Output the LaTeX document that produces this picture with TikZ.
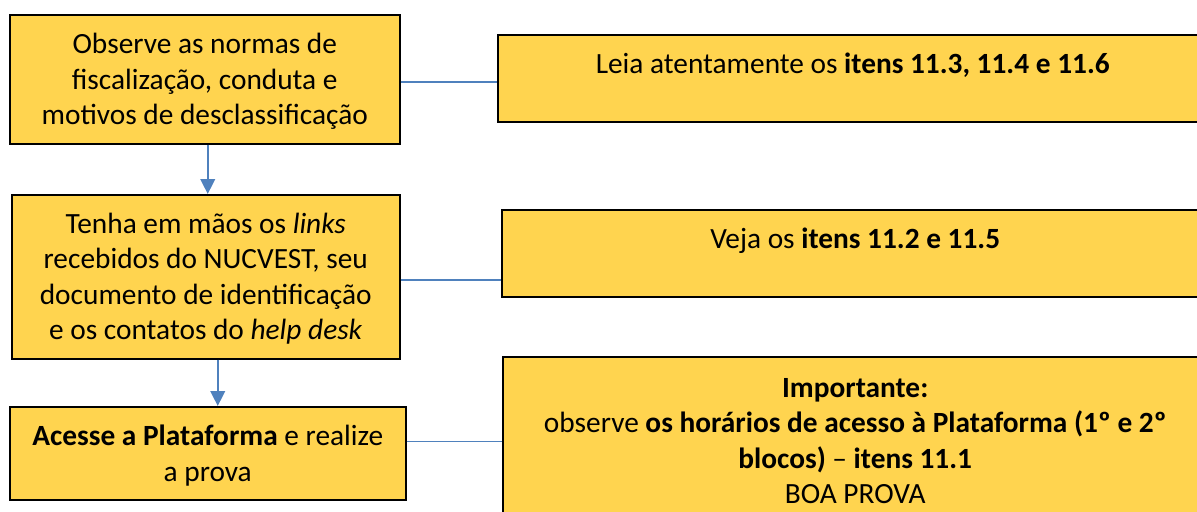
\documentclass[tikz,border=0pt]{standalone}
\usepackage{fontspec}
\setmainfont{Carlito}
\usetikzlibrary{positioning,arrows.meta}
\definecolor{boxgold}{HTML}{FFD44F}
\definecolor{linkblue}{HTML}{4F81BD}

\begin{document}
\begin{tikzpicture}[x=0.02cm, y=-0.02cm,
        stepbox/.style={draw=black, line width=0.9pt, fill=boxgold, align=center, anchor=north west, inner xsep=0pt, inner ysep=0pt, text height=0.78cm, text depth=0.38cm, font=\fontsize{16.7}{20.2}\selectfont},
        notebox/.style={stepbox, text depth=0.96cm, minimum width=14.2cm}
    ]

    %styles
    \tikzstyle{flow}=[-{Triangle[width=0.29cm,length=0.3cm]}, draw=linkblue, line width=1.4pt]
    \tikzstyle{link}=[draw=linkblue, line width=1pt]

    \clip (0,0) rectangle (1197,511);

    %nodes
    \node[stepbox, minimum width=7.8cm, text height=2.2cm] (obs) at (9,14) {Observe as normas de\\fiscalização, conduta e\\motivos de desclassificação};
    \node[stepbox, minimum width=7.76cm, text height=2.9cm] (links) at (11,194) {Tenha em mãos os \textit{links}\\recebidos do NUCVEST, seu\\documento de identificação\\e os contatos do \textit{help desk}};
    \node[stepbox, minimum width=7.92cm, text height=1.49cm] (acesso) at (9,406) {\textbf{Acesse a Plataforma} e realize\\a prova};

    \node[notebox] (leia) at (497,34) {Leia atentamente os \textbf{itens 11.3, 11.4 e 11.6}};
    \node[notebox, minimum width=14.14cm] (veja) at (501,209) {Veja os \textbf{itens 11.2 e 11.5}};
    \node[notebox, minimum width=14.1cm, text height=2.94cm, text depth=0.44cm] (importante) at (502,356) {\textbf{Importante:}\\observe \textbf{os horários de acesso à Plataforma (1º e 2º}\\\textbf{blocos)} – \textbf{itens 11.1}\\BOA PROVA};

    %arrows
    \draw[flow] ([xshift=0.06cm]obs.south) -- ([xshift=0.06cm]obs.south |- links.north);
    \draw[flow] ([xshift=0.24cm]links.south) -- ([xshift=0.24cm]links.south |- acesso.north);

    \draw[link] ([yshift=-0.06cm]obs.east) -- ([yshift=-0.06cm]obs.east -| leia.west);
    \draw[link] ([yshift=-0.06cm]links.east) -- ([yshift=-0.06cm]links.east -| veja.west);
    \draw[link] ([yshift=0.24cm]acesso.east) -- ([yshift=0.24cm]acesso.east -| importante.west);

\end{tikzpicture}
\end{document}
